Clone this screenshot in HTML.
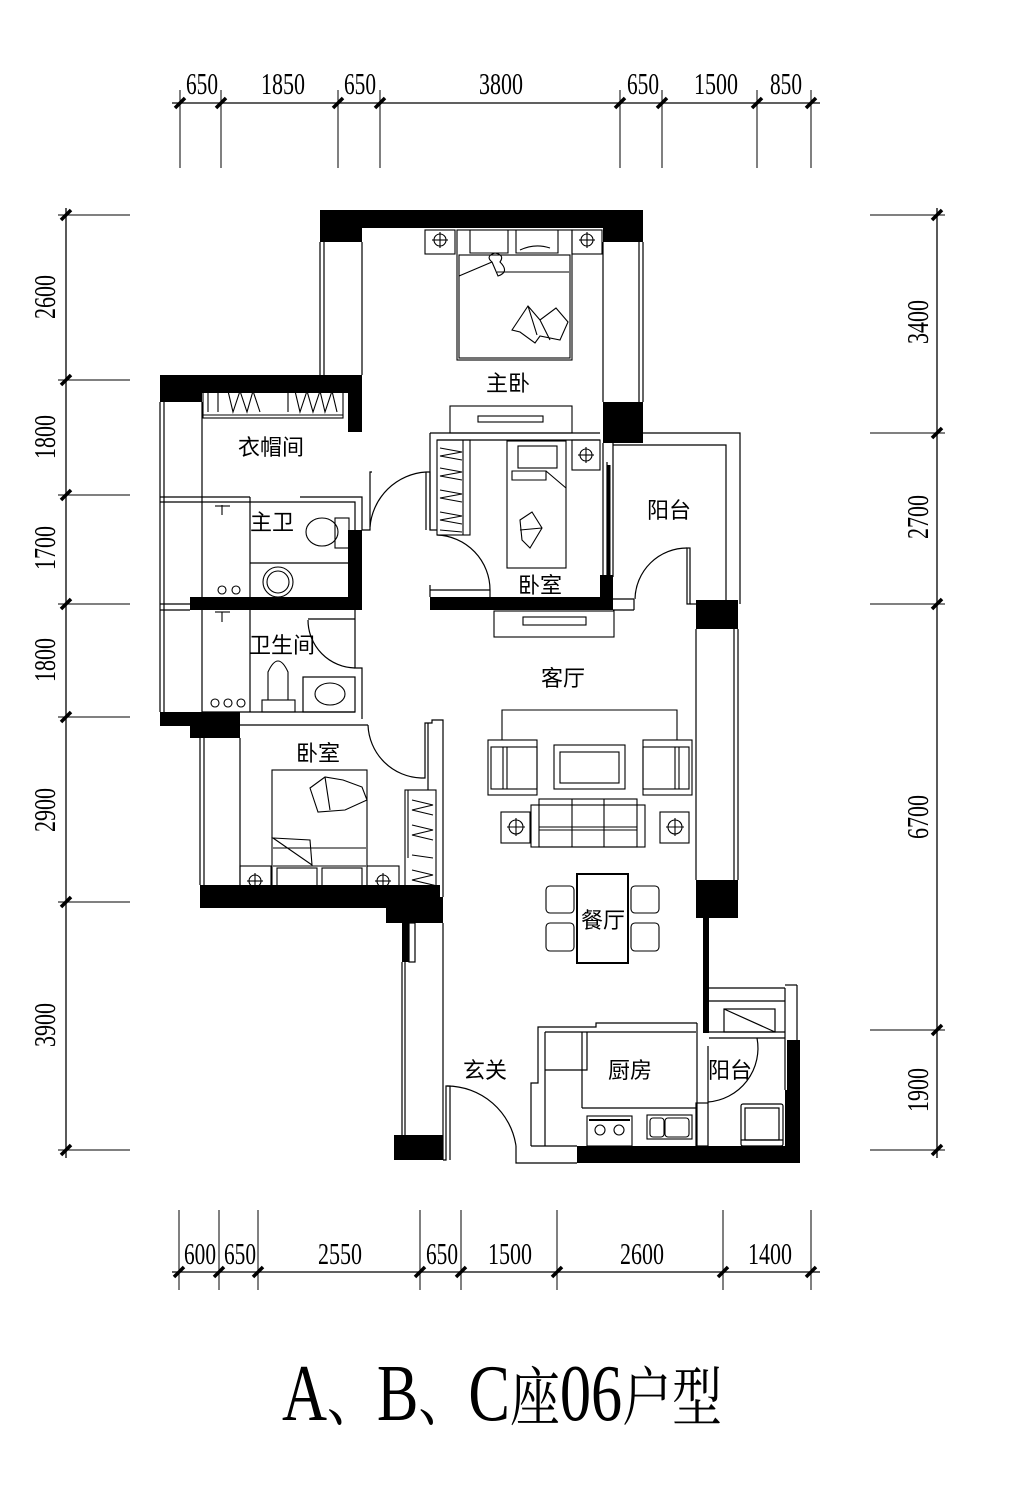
<!DOCTYPE html>
<html><head><meta charset="utf-8"><style>
body{margin:0;background:#fff;}
svg{display:block;}
.t{font-family:"Liberation Serif",serif;font-size:31px;}
.c{font-family:"Liberation Sans","Noto Sans CJK SC",sans-serif;font-size:22px;}
</style></head><body>
<svg width="1014" height="1500" viewBox="0 0 1014 1500" xmlns="http://www.w3.org/2000/svg" fill="none" stroke="#000" stroke-width="1.3">
<g>
<line x1="172" y1="103" x2="820" y2="103"/>
<g stroke-width="1">
<line x1="180" y1="90" x2="180" y2="168"/><line x1="221" y1="90" x2="221" y2="168"/><line x1="338" y1="90" x2="338" y2="168"/><line x1="380" y1="90" x2="380" y2="168"/><line x1="620" y1="90" x2="620" y2="168"/><line x1="662" y1="90" x2="662" y2="168"/><line x1="757" y1="90" x2="757" y2="168"/><line x1="811" y1="90" x2="811" y2="168"/>
</g>
<g stroke-width="3.5">
<line x1="175" y1="108" x2="185" y2="98"/><line x1="216" y1="108" x2="226" y2="98"/><line x1="333" y1="108" x2="343" y2="98"/><line x1="375" y1="108" x2="385" y2="98"/><line x1="615" y1="108" x2="625" y2="98"/><line x1="657" y1="108" x2="667" y2="98"/><line x1="752" y1="108" x2="762" y2="98"/><line x1="806" y1="108" x2="816" y2="98"/>
</g>
<g class="t" fill="#000" stroke="none" text-anchor="middle">
<text x="202" y="94" textLength="32" lengthAdjust="spacingAndGlyphs">650</text>
<text x="283" y="94" textLength="44" lengthAdjust="spacingAndGlyphs">1850</text>
<text x="360" y="94" textLength="32" lengthAdjust="spacingAndGlyphs">650</text>
<text x="501" y="94" textLength="44" lengthAdjust="spacingAndGlyphs">3800</text>
<text x="643" y="94" textLength="32" lengthAdjust="spacingAndGlyphs">650</text>
<text x="716" y="94" textLength="44" lengthAdjust="spacingAndGlyphs">1500</text>
<text x="786" y="94" textLength="32" lengthAdjust="spacingAndGlyphs">850</text>
</g>
<line x1="172" y1="1272" x2="820" y2="1272"/>
<g stroke-width="1">
<line x1="179" y1="1210" x2="179" y2="1290"/><line x1="219" y1="1210" x2="219" y2="1290"/><line x1="258" y1="1210" x2="258" y2="1290"/><line x1="420" y1="1210" x2="420" y2="1290"/><line x1="461" y1="1210" x2="461" y2="1290"/><line x1="557" y1="1210" x2="557" y2="1290"/><line x1="723" y1="1210" x2="723" y2="1290"/><line x1="811" y1="1210" x2="811" y2="1290"/>
</g>
<g stroke-width="3.5">
<line x1="174" y1="1277" x2="184" y2="1267"/><line x1="214" y1="1277" x2="224" y2="1267"/><line x1="253" y1="1277" x2="263" y2="1267"/><line x1="415" y1="1277" x2="425" y2="1267"/><line x1="456" y1="1277" x2="466" y2="1267"/><line x1="552" y1="1277" x2="562" y2="1267"/><line x1="718" y1="1277" x2="728" y2="1267"/><line x1="806" y1="1277" x2="816" y2="1267"/>
</g>
<g class="t" fill="#000" stroke="none" text-anchor="middle">
<text x="200" y="1264" textLength="32" lengthAdjust="spacingAndGlyphs">600</text>
<text x="240" y="1264" textLength="32" lengthAdjust="spacingAndGlyphs">650</text>
<text x="340" y="1264" textLength="44" lengthAdjust="spacingAndGlyphs">2550</text>
<text x="442" y="1264" textLength="32" lengthAdjust="spacingAndGlyphs">650</text>
<text x="510" y="1264" textLength="44" lengthAdjust="spacingAndGlyphs">1500</text>
<text x="642" y="1264" textLength="44" lengthAdjust="spacingAndGlyphs">2600</text>
<text x="770" y="1264" textLength="44" lengthAdjust="spacingAndGlyphs">1400</text>
</g>
<line x1="66" y1="208" x2="66" y2="1158"/>
<g stroke-width="1">
<line x1="58" y1="215" x2="130" y2="215"/><line x1="58" y1="380" x2="130" y2="380"/><line x1="58" y1="495" x2="130" y2="495"/><line x1="58" y1="604" x2="130" y2="604"/><line x1="58" y1="717" x2="130" y2="717"/><line x1="58" y1="902" x2="130" y2="902"/><line x1="58" y1="1150" x2="130" y2="1150"/>
</g>
<g stroke-width="3.5">
<line x1="61" y1="220" x2="71" y2="210"/><line x1="61" y1="385" x2="71" y2="375"/><line x1="61" y1="500" x2="71" y2="490"/><line x1="61" y1="609" x2="71" y2="599"/><line x1="61" y1="722" x2="71" y2="712"/><line x1="61" y1="907" x2="71" y2="897"/><line x1="61" y1="1155" x2="71" y2="1145"/>
</g>
<g class="t" fill="#000" stroke="none" text-anchor="middle">
<text transform="translate(55,297) rotate(-90)" textLength="44" lengthAdjust="spacingAndGlyphs">2600</text>
<text transform="translate(55,437) rotate(-90)" textLength="44" lengthAdjust="spacingAndGlyphs">1800</text>
<text transform="translate(55,548) rotate(-90)" textLength="44" lengthAdjust="spacingAndGlyphs">1700</text>
<text transform="translate(55,660) rotate(-90)" textLength="44" lengthAdjust="spacingAndGlyphs">1800</text>
<text transform="translate(55,810) rotate(-90)" textLength="44" lengthAdjust="spacingAndGlyphs">2900</text>
<text transform="translate(55,1025) rotate(-90)" textLength="44" lengthAdjust="spacingAndGlyphs">3900</text>
</g>
<line x1="937" y1="208" x2="937" y2="1158"/>
<g stroke-width="1">
<line x1="870" y1="215" x2="945" y2="215"/><line x1="870" y1="433" x2="945" y2="433"/><line x1="870" y1="604" x2="945" y2="604"/><line x1="870" y1="1030" x2="945" y2="1030"/><line x1="870" y1="1150" x2="945" y2="1150"/>
</g>
<g stroke-width="3.5">
<line x1="932" y1="220" x2="942" y2="210"/><line x1="932" y1="438" x2="942" y2="428"/><line x1="932" y1="609" x2="942" y2="599"/><line x1="932" y1="1035" x2="942" y2="1025"/><line x1="932" y1="1155" x2="942" y2="1145"/>
</g>
<g class="t" fill="#000" stroke="none" text-anchor="middle">
<text transform="translate(928,322) rotate(-90)" textLength="44" lengthAdjust="spacingAndGlyphs">3400</text>
<text transform="translate(928,517) rotate(-90)" textLength="44" lengthAdjust="spacingAndGlyphs">2700</text>
<text transform="translate(928,817) rotate(-90)" textLength="44" lengthAdjust="spacingAndGlyphs">6700</text>
<text transform="translate(928,1090) rotate(-90)" textLength="44" lengthAdjust="spacingAndGlyphs">1900</text>
</g>
</g>

<g fill="#000" stroke="none">
<rect x="320" y="210" width="323" height="18"/>
<rect x="320" y="210" width="42" height="32"/>
<rect x="603" y="210" width="40" height="32"/>
<rect x="603" y="402" width="40" height="41"/>
<rect x="160" y="375" width="202" height="18"/>
<rect x="160" y="375" width="42" height="27"/>
<rect x="348" y="375" width="14" height="57"/>
<rect x="348" y="530" width="14" height="74"/>
<rect x="190" y="597" width="172" height="13"/>
<rect x="160" y="712" width="80" height="14"/>
<rect x="190" y="712" width="50" height="26"/>
<rect x="200" y="885" width="240" height="23"/>
<rect x="386" y="897" width="57" height="26"/>
<rect x="402" y="923" width="7" height="39"/>
<rect x="394" y="1135" width="49" height="25"/>
<rect x="577" y="1146" width="223" height="17"/>
<rect x="785" y="1090" width="6" height="56"/>
<rect x="787" y="1040" width="13" height="106"/>
<rect x="696" y="600" width="42" height="29"/>
<rect x="696" y="880" width="42" height="38"/>
<rect x="703" y="918" width="6" height="115"/>
<rect x="430" y="597" width="183" height="13"/>
<rect x="600" y="575" width="13" height="30"/>
</g>

<g stroke-width="1.2">
<line x1="320" y1="242" x2="320" y2="375"/><line x1="324" y1="242" x2="324" y2="375"/><line x1="362" y1="242" x2="362" y2="375"/>
<line x1="603" y1="242" x2="603" y2="402"/><line x1="639" y1="242" x2="639" y2="402"/><line x1="643" y1="242" x2="643" y2="402"/>
<line x1="160" y1="402" x2="160" y2="712"/><line x1="164" y1="402" x2="164" y2="712"/><line x1="202" y1="402" x2="202" y2="712"/>
<line x1="160" y1="497" x2="250" y2="497"/><line x1="160" y1="502" x2="250" y2="502"/>
<line x1="160" y1="604" x2="190" y2="604"/><line x1="160" y1="610" x2="190" y2="610"/>
<polyline points="250,497 250,597"/>
<polyline points="250,502 300,502"/>
<polyline points="300,497 362,497 362,530"/>
<polyline points="300,502 355,502 355,530"/>
<line x1="250" y1="563" x2="348" y2="563"/>
<polyline points="362,530 370,530 370,472 372,472"/>
<path d="M370,527 A60,60 0 0 1 426,472"/>
<polyline points="426,472 430,472 430,530 437,530"/>
<line x1="426" y1="472" x2="426" y2="530"/>
<polyline points="430,433 600,433"/><polyline points="430,433 430,530"/><polyline points="437,440 600,440"/>
<line x1="430" y1="585" x2="430" y2="597"/><line x1="430" y1="590" x2="490" y2="590"/>
<path d="M437,535 A55,55 0 0 1 490,590"/><line x1="490" y1="590" x2="490" y2="597"/>
<line x1="603" y1="443" x2="603" y2="577"/><line x1="607" y1="462" x2="607" y2="577"/><line x1="613" y1="443" x2="613" y2="577"/>
<line x1="609" y1="465" x2="609" y2="575" stroke-width="3"/>
<polyline points="643,433 740,433 740,604"/>
<polyline points="613,445 726,445 726,600"/>
<line x1="613" y1="599" x2="634" y2="599"/><line x1="613" y1="610" x2="634" y2="610"/><line x1="634" y1="599" x2="634" y2="610"/>
<path d="M635,599 A52,52 0 0 1 687,548"/>
<rect x="687" y="548" width="3" height="56"/>
<line x1="690" y1="604" x2="696" y2="604"/>
<line x1="696" y1="629" x2="696" y2="880"/><line x1="734" y1="629" x2="734" y2="880"/><line x1="738" y1="629" x2="738" y2="880"/>
<line x1="202" y1="712" x2="240" y2="712"/>
<polyline points="250,610 250,712"/>
<polyline points="308,619 355,619"/>
<polyline points="355,610 355,619"/><polyline points="355,619 355,668 362,668 362,719"/>
<path d="M308,620 A48,48 0 0 0 355,668"/>
<rect x="303" y="677" width="52" height="35"/>
<line x1="240" y1="712" x2="355" y2="712"/>
<line x1="240" y1="725" x2="368" y2="725"/>
<line x1="200" y1="738" x2="200" y2="885"/><line x1="204" y1="738" x2="204" y2="885"/><line x1="240" y1="738" x2="240" y2="885"/>
<path d="M368,725 A55,55 0 0 0 421,778"/>
<polyline points="421,778 425,778 425,723 432,723 432,720 443,720 443,897"/>
<line x1="428" y1="723" x2="428" y2="790"/>
<line x1="402" y1="962" x2="402" y2="1135"/><line x1="405" y1="962" x2="405" y2="1135"/><line x1="443" y1="923" x2="443" y2="1160"/>
<rect x="409" y="923" width="6" height="39"/>
<polyline points="443,1160 446,1160 446,1086 450,1086 450,1160"/>
<path d="M447,1086 A70,70 0 0 1 516,1146"/>
<polyline points="516,1146 516,1163 577,1163"/>
<polyline points="531,1146 531,1083 538,1083 538,1027 596,1027 596,1023 697,1023"/>
<line x1="545" y1="1032" x2="545" y2="1146"/>
<line x1="531" y1="1146" x2="577" y2="1146"/>
<polyline points="545,1032 696,1032"/>
<polyline points="545,1070 587,1070 587,1032"/>
<line x1="582" y1="1032" x2="582" y2="1108"/>
<line x1="582" y1="1108" x2="696" y2="1108"/>
<line x1="697" y1="1023" x2="697" y2="1146"/>
<rect x="696" y="1103" width="12" height="43"/>
<line x1="708" y1="1046" x2="708" y2="1103"/>
<polyline points="709,988 785,988"/><polyline points="709,1001 785,1001"/>
<rect x="724" y="1009" width="51" height="23"/><line x1="724" y1="1009" x2="775" y2="1032"/>
<polyline points="709,1032 785,1032"/><polyline points="709,1038 785,1038"/>
<polyline points="785,988 785,1090"/><polyline points="797,985 797,1040"/><line x1="785" y1="985" x2="797" y2="985"/>
<path d="M757,1038 A54,54 0 0 1 708,1102"/>
<rect x="741" y="1104" width="42" height="42" rx="2"/>
<rect x="745" y="1108" width="34" height="32"/>
<line x1="741" y1="1140" x2="783" y2="1140"/>
</g>

<g stroke-width="1.1">
<rect x="457" y="230" width="115" height="130"/>
<rect x="459" y="255" width="111" height="103"/>
<line x1="497" y1="272" x2="569" y2="272"/>
<path d="M459,276 L492,262 M492,262 Q485,256 495,253 Q505,255 500,262 Q510,272 498,276 Z"/>
<path d="M470,230 L470,253 L508,253 L508,230 M516,230 L516,253 L558,253 L558,230 M520,250 Q535,243 550,248"/>
<path d="M512,330 L528,306 L540,320 L556,308 L568,322 L560,340 L540,336 L535,343 L520,332 Z M528,306 L537,335 M540,320 L550,340"/>
<rect x="425" y="230" width="30" height="24"/><circle cx="440" cy="240" r="6"/><line x1="432" y1="240" x2="448" y2="240"/><line x1="440" y1="232" x2="440" y2="248"/>
<rect x="572" y="230" width="30" height="24"/><circle cx="587" cy="240" r="6"/><line x1="579" y1="240" x2="595" y2="240"/><line x1="587" y1="232" x2="587" y2="248"/>
<rect x="450" y="406" width="122" height="27"/><rect x="478" y="416" width="65" height="6"/>
<rect x="203" y="389" width="140" height="29"/>
<line x1="203" y1="415" x2="343" y2="415"/>
<path d="M208,391 L208,412 M218,391 L218,412 M228,391 L233,412 L240,391 L247,412 L253,391 L260,412 M288,391 L288,412 M295,391 L300,412 L307,391 L313,412 L320,391 L325,412 L332,391 L337,412"/>
<rect x="437" y="440" width="33" height="95"/><line x1="463" y1="440" x2="463" y2="535"/>
<path d="M440,448 L462,452 L440,456 L462,460 M440,468 L462,472 L440,476 L462,480 M440,490 L462,494 L440,498 L462,502 M440,512 L462,516 L440,520 L462,524 M440,530 L462,532"/>
<rect x="507" y="441" width="59" height="127"/>
<rect x="518" y="446" width="39" height="22"/>
<path d="M512,471 L546,471 L546,480 L512,480 Z M546,471 L566,488"/>
<path d="M520,520 L532,512 L542,528 L530,548 L522,540 Z M520,530 L542,528"/>
<rect x="572" y="440" width="28" height="30"/><circle cx="586" cy="455" r="6"/><line x1="578" y1="455" x2="594" y2="455"/><line x1="586" y1="447" x2="586" y2="463"/>
<ellipse cx="322" cy="532" rx="16" ry="14"/><rect x="335" y="518" width="14" height="30"/>
<circle cx="278" cy="582" r="15"/><circle cx="278" cy="582" r="11"/>
<circle cx="222" cy="590" r="4"/><circle cx="236" cy="590" r="4"/>
<line x1="222" y1="505" x2="222" y2="515"/><line x1="215" y1="506" x2="230" y2="506"/>
<line x1="222" y1="612" x2="222" y2="622"/><line x1="215" y1="612" x2="230" y2="612"/>
<path d="M268,700 L268,672 Q278,650 288,672 L288,700"/><rect x="262" y="700" width="33" height="12"/>
<ellipse cx="330" cy="694" rx="15" ry="11"/>
<circle cx="215" cy="703" r="4"/><circle cx="228" cy="703" r="4"/><circle cx="241" cy="703" r="4"/>
<rect x="272" y="770" width="95" height="125"/>
<line x1="273" y1="848" x2="366" y2="848"/><line x1="273" y1="866" x2="366" y2="866"/>
<path d="M273,838 L312,865 L310,840 Z"/>
<path d="M310,788 L325,777 L343,780 L362,787 L367,800 L345,810 L318,812 Z M325,777 L330,810"/>
<rect x="277" y="868" width="40" height="24"/><rect x="322" y="868" width="40" height="24"/>
<rect x="240" y="866" width="31" height="30"/><circle cx="255" cy="881" r="6"/><line x1="247" y1="881" x2="263" y2="881"/><line x1="255" y1="873" x2="255" y2="889"/>
<rect x="367" y="866" width="32" height="30"/><circle cx="383" cy="881" r="6"/><line x1="375" y1="881" x2="391" y2="881"/><line x1="383" y1="873" x2="383" y2="889"/>
<rect x="405" y="790" width="31" height="107"/><line x1="408" y1="790" x2="408" y2="858"/>
<path d="M412,800 L433,805 L412,810 L433,815 M412,825 L433,830 L412,835 L433,840 M412,855 L433,858 M412,870 L433,875 L412,880 L433,885 L412,892 L433,894"/>
<rect x="494" y="611" width="120" height="26"/><rect x="523" y="617" width="63" height="8"/>
<polyline points="502,740 502,710 677,710 677,740"/>
<rect x="488" y="740" width="49" height="55"/><rect x="491" y="747" width="46" height="42"/><line x1="503" y1="747" x2="503" y2="789"/><line x1="507" y1="747" x2="507" y2="789"/>
<rect x="643" y="740" width="49" height="55"/><rect x="643" y="747" width="46" height="42"/><line x1="675" y1="747" x2="675" y2="789"/><line x1="679" y1="747" x2="679" y2="789"/>
<rect x="554" y="745" width="71" height="44"/><rect x="560" y="752" width="59" height="31"/>
<rect x="531" y="805" width="114" height="42"/><rect x="539" y="799" width="98" height="48"/>
<line x1="572" y1="799" x2="572" y2="847"/><line x1="604" y1="799" x2="604" y2="847"/><line x1="539" y1="827" x2="637" y2="827"/><line x1="539" y1="830" x2="637" y2="830"/>
<rect x="501" y="812" width="29" height="31"/><circle cx="516" cy="827" r="7"/><line x1="507" y1="827" x2="525" y2="827"/><line x1="516" y1="818" x2="516" y2="836"/>
<rect x="660" y="812" width="29" height="31"/><circle cx="675" cy="827" r="7"/><line x1="666" y1="827" x2="684" y2="827"/><line x1="675" y1="818" x2="675" y2="836"/>
<rect x="577" y="874" width="51" height="89" stroke-width="2"/>
<rect x="546" y="886" width="28" height="27" rx="4"/><rect x="546" y="923" width="28" height="28" rx="4"/>
<rect x="631" y="886" width="28" height="27" rx="4"/><rect x="631" y="923" width="28" height="28" rx="4"/>
<rect x="587" y="1116" width="45" height="30"/><line x1="589" y1="1120" x2="630" y2="1120" stroke-width="2"/>
<circle cx="600" cy="1130" r="5"/><circle cx="619" cy="1130" r="5"/>
<rect x="647" y="1115" width="45" height="24"/><rect x="650" y="1118" width="14" height="19" rx="3"/><rect x="665" y="1118" width="24" height="19" rx="3"/>
</g>

<g class="c" fill="#000" stroke="none" text-anchor="middle">
<text x="508" y="391">主卧</text>
<text x="271" y="455">衣帽间</text>
<text x="272" y="530">主卫</text>
<text x="540" y="593">卧室</text>
<text x="669" y="518">阳台</text>
<text x="282" y="653">卫生间</text>
<text x="563" y="686">客厅</text>
<text x="318" y="761">卧室</text>
<text x="603" y="928">餐厅</text>
<text x="485" y="1078">玄关</text>
<text x="630" y="1078">厨房</text>
<text x="730" y="1078">阳台</text>
</g>
<text x="502" y="1420" text-anchor="middle" fill="#000" stroke="none" font-family="Liberation Serif, 'Noto Serif CJK SC', serif" font-size="64" textLength="440" lengthAdjust="spacingAndGlyphs"><tspan font-size="80">A</tspan>、<tspan font-size="80">B</tspan>、<tspan font-size="80">C</tspan>座<tspan font-size="80">06</tspan>户型</text>
</svg>
</body></html>
